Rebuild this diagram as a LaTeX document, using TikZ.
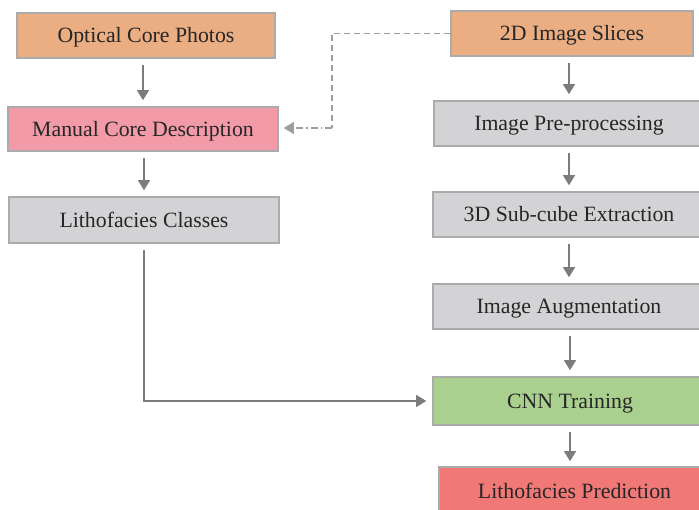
\documentclass[tikz,border=0pt]{standalone}
\usepackage{fontspec}
\setmainfont{Liberation Serif}
\usetikzlibrary{arrows.meta}
\definecolor{boxorange}{HTML}{EBAD82}
\definecolor{boxpink}{HTML}{F29AA7}
\definecolor{boxgray}{HTML}{D3D3D5}
\definecolor{boxgreen}{HTML}{A9D08E}
\definecolor{boxred}{HTML}{F07876}
\definecolor{edgegray}{HTML}{ABABAB}
\definecolor{arrowgray}{HTML}{7C7C7C}
\definecolor{textdark}{HTML}{262626}
\tikzset{
  stagebox/.style={draw=edgegray, line width=1.6pt, rectangle, inner sep=0pt,
    text=textdark, font=\fontsize{21.8}{24}\selectfont,
    text height=14.4pt, text depth=0pt},
  arr/.style={draw=arrowgray, line width=1.2pt,
    -{Triangle[width=12pt,length=10pt]}, shorten <=6pt, shorten >=6pt},
  dashlink/.style={draw=arrowgray!75, line width=1.1pt, dash pattern=on 6pt off 4pt},
  dotlink/.style={draw=arrowgray!75, line width=1.1pt, dash pattern=on 7pt off 3pt on 1.5pt off 3pt,
    -{Triangle[width=12pt,length=10pt]}, shorten >=5pt}
}
\begin{document}
\begin{tikzpicture}[x=1pt, y=-1pt]
\useasboundingbox (0,0) rectangle (699,510);

% left column
\node[stagebox, fill=boxorange, minimum width=258pt, minimum height=45pt] (photos) at (146,35.5) {Optical Core Photos};
\node[stagebox, fill=boxpink, minimum width=270pt, minimum height=44pt] (manual) at (143,129) {Manual Core Description};
\node[stagebox, fill=boxgray, minimum width=270pt, minimum height=46pt] (classes) at (144,220) {Lithofacies Classes};

% right column
\node[stagebox, fill=boxorange, minimum width=242pt, minimum height=45pt] (slices) at (572,33.5) {2D Image Slices};
\node[stagebox, fill=boxgray, minimum width=270pt, minimum height=45pt] (prep) at (569,123.5) {Image Pre-processing};
\node[stagebox, fill=boxgray, minimum width=272pt, minimum height=45pt] (cube) at (569,214.5) {3D Sub-cube Extraction};
\node[stagebox, fill=boxgray, minimum width=272pt, minimum height=45pt] (aug) at (569,306.5) {Image Augmentation};
\node[stagebox, fill=boxgreen, minimum width=274pt, minimum height=48pt] (cnn) at (570,401) {CNN Training};
% last stage runs past the lower edge of the page: no bottom border
\node[stagebox, draw=none, fill=boxred, minimum width=269pt, minimum height=46pt] (pred) at (574.5,491) {Lithofacies Prediction};
\draw[edgegray, line width=1.6pt] (pred.south west) -- (pred.north west) -- (pred.north east) -- (pred.south east);

% flow arrows
\draw[arr] (photos.south -| manual.north) -- (manual.north);
\draw[arr] (manual.south -| classes.north) -- (classes.north);
\draw[arr] (slices.south -| prep.north) -- (prep.north);
\draw[arr] (prep.south) -- (cube.north);
\draw[arr] (cube.south) -- (aug.north);
\draw[arr] (aug.south -| cnn.north) -- (cnn.north);
\draw[arr] (cnn.south) -- (cnn.south |- pred.north);
\draw[arr] (classes.south) |- (cnn.west);

% link from the slices to the core description
\coordinate (bend) at (332,128);
\draw[dashlink] (slices.west) -| (bend);
\draw[dotlink] (bend) -- (manual.east |- bend);
\end{tikzpicture}
\end{document}
